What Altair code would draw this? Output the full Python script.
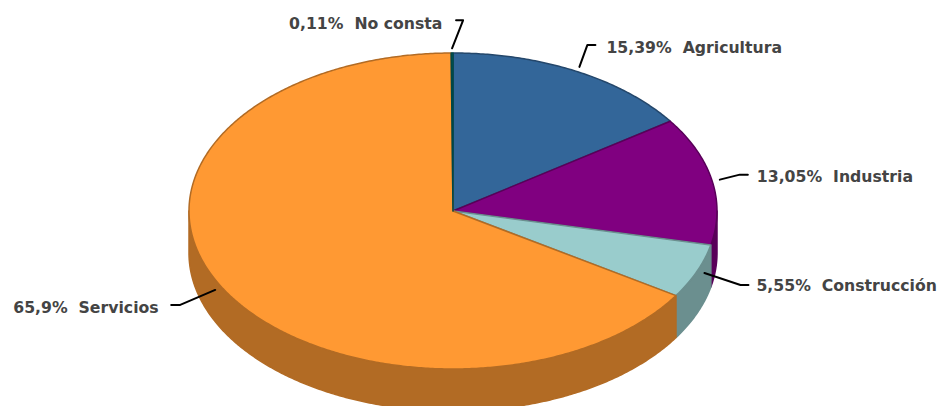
import math
import altair as alt

categories = ["Agricultura", "Industria", "Construcción", "Servicios", "No consta"]
shares = [15.39, 13.05, 5.55, 65.9, 0.11]
share_labels = ["15,39%", "13,05%", "5,55%", "65,9%", "0,11%"]
top_colors = ["#336699", "#800080", "#99CCCC", "#FF9933", "#006666"]
side_colors = ["#24476B", "#590059", "#6B8F8F", "#B26B24", "#004747"]

# Pie geometry, in page pixels
CX, CY, RX, RY, DEPTH = 453, 211, 264, 158, 42
# Leader elbows and label anchors, as offsets from each slice's leader start
elbow_dx = [8, 20, 36, -35, 11]
elbow_dy = [-22, -5, 12, 15, -28]
stub_dx = [8, 8, 8, -9, -7]
label_dx = [27, 37, 52, -202, -163]
label_dy = [-19, -3, 13, 18, -24]


def pt(deg, k=1.0, dy=0.0):
    a = math.radians(deg)
    return [CX + RX * k * math.sin(a), CY - RY * k * math.cos(a) + dy]


def sweep(a, b):
    n = max(2, int(abs(b - a) * 2) + 1)
    return [a + (b - a) * i / (n - 1) for i in range(n)]


def feature(kind, coords, color, rim):
    return {"type": "Feature", "properties": {"color": color, "rim": rim},
            "geometry": {"type": kind, "coordinates": coords}}


sides, tops, leaders, labels = [], [], [], []
start = 0.0
for i, cat in enumerate(categories):
    end = start + shares[i] * 3.6
    lo, hi = max(start, 90), min(end, 270)
    if hi > lo:
        ring = [pt(d) for d in sweep(lo, hi)] + [pt(d, dy=DEPTH) for d in sweep(hi, lo)]
        ring.append(ring[0])
        sides.append(feature("Polygon", [ring], side_colors[i], side_colors[i]))
    ring = [[CX, CY]] + [pt(d) for d in sweep(start, end)] + [[CX, CY]]
    tops.append(feature("Polygon", [ring], top_colors[i], side_colors[i]))

    x0, y0 = pt((start + end) / 2, 1.03)
    ex, ey = x0 + elbow_dx[i], y0 + elbow_dy[i]
    leaders.append(feature("LineString", [[x0, y0], [ex, ey], [ex + stub_dx[i], ey]], "black", "black"))
    labels.append({"lon": x0 + label_dx[i], "lat": y0 + label_dy[i],
                   "text": f"{share_labels[i]}\u00a0\u00a0{cat}"})
    start = end

proj = dict(type="identity", scale=1, translate=[-8, -8])


def shapes(features):
    return alt.Chart(alt.Data(values=features, format=alt.JsonDataFormat(type="json")))


pie = shapes(sides + tops).mark_geoshape(strokeWidth=1.5, strokeJoin="round").encode(
    fill=alt.Fill("properties.color:N", scale=None),
    stroke=alt.Stroke("properties.rim:N", scale=None),
).project(**proj)

lines = shapes(leaders).mark_geoshape(
    filled=False, stroke="black", strokeWidth=2, strokeJoin="round", strokeCap="round"
).project(**proj)

text = alt.Chart(alt.Data(values=labels)).mark_text(
    align="left", baseline="middle", font="DejaVu Sans", fontSize=15.7,
    fontWeight="bold", color="#444444",
).encode(longitude="lon:Q", latitude="lat:Q", text="text:N").project(**proj)

chart = alt.layer(pie, lines, text).properties(
    width=930, height=398, padding=0, autosize=alt.AutoSizeParams(type="none")
).configure_view(stroke=None)

chart.save("out.html", embed_options={"renderer": "svg", "actions": False})
